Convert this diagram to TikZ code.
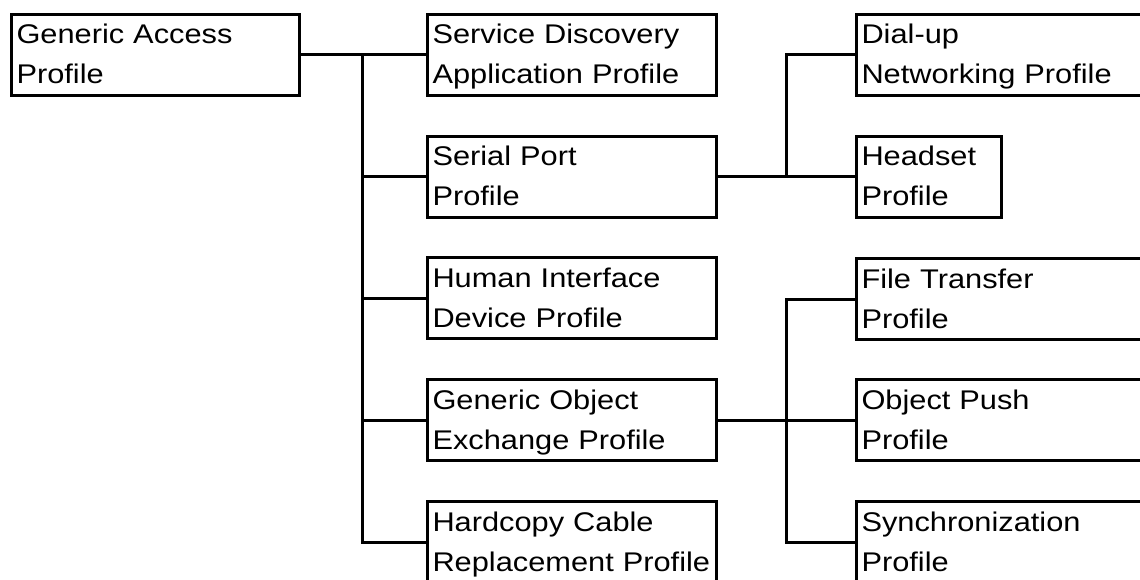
\documentclass[tikz,border=0pt]{standalone}
\usepackage{fontspec}
\setmainfont{Liberation Sans}[FakeStretch=1.14]
\begin{document}
\begin{tikzpicture}[x=1pt,y=-1pt,
  pbox/.style={draw, line width=3pt, anchor=north west, minimum height=81pt,
    inner xsep=5pt, inner ysep=0pt, align=left,
    font=\fontsize{27}{40}\selectfont},
  wire/.style={line width=3pt}]
\useasboundingbox (0,0) rectangle (1140,580);
\newcommand{\twolines}[2]{\rule{0pt}{26pt}#1\\#2\rule[-8pt]{0pt}{8pt}}

% root profile
\node[pbox, text width=278pt] (gap) at (10,13) {\twolines{Generic Access}{Profile}};

% profiles built directly on the access profile
\node[pbox, text width=279pt] (sd)   at (426,13)  {\twolines{Service Discovery}{Application Profile}};
\node[pbox, text width=279pt] (sp)   at (426,135) {\twolines{Serial Port}{Profile}};
\node[pbox, text width=279pt] (hid)  at (426,256) {\twolines{Human Interface}{Device Profile}};
\node[pbox, text width=279pt] (goep) at (426,378) {\twolines{Generic Object}{Exchange Profile}};
\node[pbox, text width=279pt] (hcr)  at (426,500) {\twolines{Hardcopy Cable}{Replacement Profile}};

% profiles on top of the serial port profile
\node[pbox, text width=295pt] (dun) at (855,13)  {\twolines{Dial-up}{Networking Profile}};
\node[pbox, text width=135pt] (hs)  at (855,135) {\twolines{Headset}{Profile}};

% profiles on top of the object exchange profile
\node[pbox, text width=295pt] (ft)   at (855,257) {\twolines{File Transfer}{Profile}};
\node[pbox, text width=295pt] (op)   at (855,378) {\twolines{Object Push}{Profile}};
\node[pbox, text width=295pt] (sync) at (855,500) {\twolines{Synchronization}{Profile}};

% bus lines
\coordinate (busA) at (362,0);
\coordinate (busB) at (786,0);

\draw[wire] (gap.east) -- (sd.west);
\draw[wire] (busA |- gap.east) -- (busA |- hcr.west) -- (hcr.west);
\draw[wire] (busA |- sp.west) -- (sp.west);
\draw[wire] (busA |- hid.west) -- (hid.west);
\draw[wire] (busA |- goep.west) -- (goep.west);

\draw[wire] (sp.east) -- (hs.west);
\draw[wire] (busB |- sp.east) -- (busB |- dun.west) -- (dun.west);

\draw[wire] (goep.east) -- (op.west);
\draw[wire] (ft.west) -- (busB |- ft.west) -- (busB |- sync.west) -- (sync.west);
\end{tikzpicture}
\end{document}
